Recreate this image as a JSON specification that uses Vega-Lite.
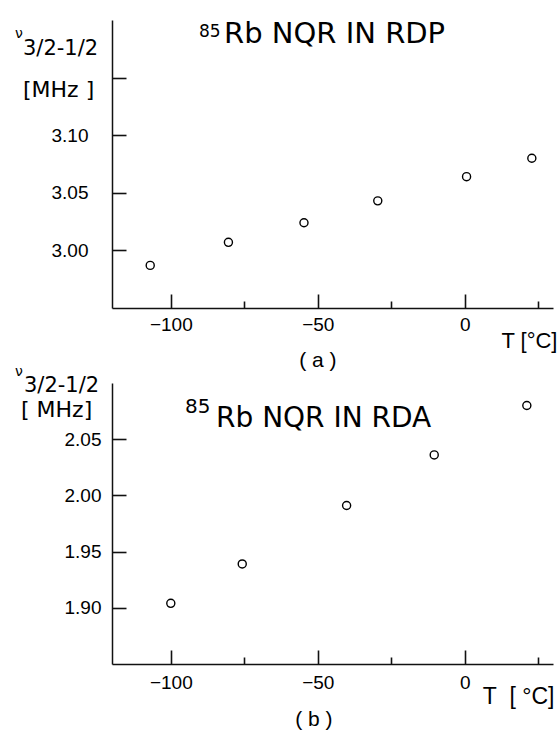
{
  "$schema": "https://vega.github.io/schema/vega-lite/v6.json",
  "padding": {"left": 15, "top": 20, "right": 0, "bottom": 0},
  "background": "white",
  "bounds": "flush",
  "spacing": 75,
  "config": {
    "view": {"stroke": null},
    "font": "Liberation Sans",
    "axis": {
      "grid": false,
      "domainColor": "#111111",
      "domainWidth": 1.5,
      "tickColor": "#111111",
      "tickWidth": 1.6,
      "labelColor": "black",
      "labelFont": "Liberation Sans",
      "labelFontSize": 19,
      "titleColor": "black",
      "titleFont": "Liberation Sans",
      "titleFontWeight": "normal",
      "titleFontSize": 22
    },
    "text": {"color": "black", "font": "DejaVu Sans"}
  },
  "datasets": {
    "rdp": [
      {"T": -107, "v": 2.987},
      {"T": -80.4, "v": 3.007},
      {"T": -54.7, "v": 3.024},
      {"T": -29.6, "v": 3.043},
      {"T": 0.6, "v": 3.064},
      {"T": 22.8, "v": 3.080}
    ],
    "rda": [
      {"T": -100, "v": 1.904},
      {"T": -75.7, "v": 1.939},
      {"T": -40.2, "v": 1.991},
      {"T": -10.4, "v": 2.036},
      {"T": 21.1, "v": 2.080}
    ],
    "one": [{}]
  },
  "vconcat": [
    {
      "width": 441,
      "height": 288,
      "layer": [
        {
          "data": {"name": "rdp"},
          "mark": {"type": "point", "shape": "circle", "filled": false, "stroke": "black", "strokeWidth": 1.4, "size": 65, "opacity": 1},
          "encoding": {
            "x": {
              "field": "T", "type": "quantitative",
              "scale": {"domain": [-120, 30], "nice": false, "zero": false},
              "axis": {
                "values": [-100, -75, -50, -25, 0, 25],
                "labelExpr": "datum.value % 50 === 0 ? datum.label : ''",
                "tickSize": {"condition": {"test": "datum.value % 50 === 0", "value": -14}, "value": -7},
                "labelPadding": 21,
                "title": "T [°C]",
                "titleX": 445,
                "titleY": 39,
                "titleAlign": "right",
                "titleBaseline": "alphabetic"
              }
            },
            "y": {
              "field": "v", "type": "quantitative",
              "scale": {"domain": [2.95, 3.20], "nice": false, "zero": false},
              "axis": {
                "values": [3.0, 3.05, 3.1, 3.15],
                "labelExpr": "datum.value > 3.12 ? '' : format(datum.value, '.2f')",
                "tickSize": -14,
                "labelPadding": 38,
                "title": null
              }
            }
          }
        },
        {
          "data": {"name": "one"},
          "mark": {"type": "text", "text": "ν", "align": "left", "baseline": "alphabetic", "dx": -97, "dy": 18, "fontSize": 14},
          "encoding": {"x": {"datum": -120, "type": "quantitative"}, "y": {"datum": 3.2, "type": "quantitative"}}
        },
        {
          "data": {"name": "one"},
          "mark": {"type": "text", "text": "3/2-1/2", "align": "left", "baseline": "alphabetic", "dx": -89, "dy": 35, "fontSize": 21},
          "encoding": {"x": {"datum": -120, "type": "quantitative"}, "y": {"datum": 3.2, "type": "quantitative"}}
        },
        {
          "data": {"name": "one"},
          "mark": {"type": "text", "text": "[MHz ]", "align": "left", "baseline": "alphabetic", "dx": -89, "dy": 77, "fontSize": 22},
          "encoding": {"x": {"datum": -120, "type": "quantitative"}, "y": {"datum": 3.2, "type": "quantitative"}}
        },
        {
          "data": {"name": "one"},
          "mark": {"type": "text", "text": "85", "align": "left", "baseline": "alphabetic", "dx": 87, "dy": 17, "fontSize": 17},
          "encoding": {"x": {"datum": -120, "type": "quantitative"}, "y": {"datum": 3.2, "type": "quantitative"}}
        },
        {
          "data": {"name": "one"},
          "mark": {"type": "text", "text": "Rb NQR IN RDP", "align": "left", "baseline": "alphabetic", "dx": 112, "dy": 23, "fontSize": 29},
          "encoding": {"x": {"datum": -120, "type": "quantitative"}, "y": {"datum": 3.2, "type": "quantitative"}}
        },
        {
          "data": {"name": "one"},
          "mark": {"type": "text", "text": "( a )", "align": "center", "baseline": "alphabetic", "dx": 0, "dy": 59, "fontSize": 21, "font": "Liberation Sans"},
          "encoding": {"x": {"datum": -50, "type": "quantitative"}, "y": {"datum": 2.95, "type": "quantitative"}}
        }
      ]
    },
    {
      "width": 441,
      "height": 281,
      "layer": [
        {
          "data": {"name": "rda"},
          "mark": {"type": "point", "shape": "circle", "filled": false, "stroke": "black", "strokeWidth": 1.4, "size": 65, "opacity": 1},
          "encoding": {
            "x": {
              "field": "T", "type": "quantitative",
              "scale": {"domain": [-120, 30], "nice": false, "zero": false},
              "axis": {
                "values": [-100, -75, -50, -25, 0, 25],
                "labelExpr": "datum.value % 50 === 0 ? datum.label : ''",
                "tickSize": {"condition": {"test": "datum.value % 50 === 0", "value": -14}, "value": -7},
                "labelPadding": 23,
                "title": "T\u00a0\u00a0[\u00a0°C]",
                "titleX": 442,
                "titleY": 39,
                "titleAlign": "right",
                "titleBaseline": "alphabetic",
                "titleFontSize": 23
              }
            },
            "y": {
              "field": "v", "type": "quantitative",
              "scale": {"domain": [1.85, 2.10], "nice": false, "zero": false},
              "axis": {
                "values": [1.9, 1.95, 2.0, 2.05],
                "format": ".2f",
                "tickSize": -14,
                "labelPadding": 25,
                "title": null
              }
            }
          }
        },
        {
          "data": {"name": "one"},
          "mark": {"type": "text", "text": "ν", "align": "left", "baseline": "alphabetic", "dx": -97, "dy": -7, "fontSize": 14},
          "encoding": {"x": {"datum": -120, "type": "quantitative"}, "y": {"datum": 2.1, "type": "quantitative"}}
        },
        {
          "data": {"name": "one"},
          "mark": {"type": "text", "text": "3/2-1/2", "align": "left", "baseline": "alphabetic", "dx": -88, "dy": 9, "fontSize": 21},
          "encoding": {"x": {"datum": -120, "type": "quantitative"}, "y": {"datum": 2.1, "type": "quantitative"}}
        },
        {
          "data": {"name": "one"},
          "mark": {"type": "text", "text": "[ MHz]", "align": "left", "baseline": "alphabetic", "dx": -91, "dy": 34, "fontSize": 22},
          "encoding": {"x": {"datum": -120, "type": "quantitative"}, "y": {"datum": 2.1, "type": "quantitative"}}
        },
        {
          "data": {"name": "one"},
          "mark": {"type": "text", "text": "85", "align": "left", "baseline": "alphabetic", "dx": 73, "dy": 30, "fontSize": 20},
          "encoding": {"x": {"datum": -120, "type": "quantitative"}, "y": {"datum": 2.1, "type": "quantitative"}}
        },
        {
          "data": {"name": "one"},
          "mark": {"type": "text", "text": "Rb NQR IN RDA", "align": "left", "baseline": "alphabetic", "dx": 104, "dy": 44, "fontSize": 28},
          "encoding": {"x": {"datum": -120, "type": "quantitative"}, "y": {"datum": 2.1, "type": "quantitative"}}
        },
        {
          "data": {"name": "one"},
          "mark": {"type": "text", "text": "( b )", "align": "center", "baseline": "alphabetic", "dx": -4, "dy": 62, "fontSize": 21, "font": "Liberation Sans"},
          "encoding": {"x": {"datum": -50, "type": "quantitative"}, "y": {"datum": 1.85, "type": "quantitative"}}
        }
      ]
    }
  ]
}
